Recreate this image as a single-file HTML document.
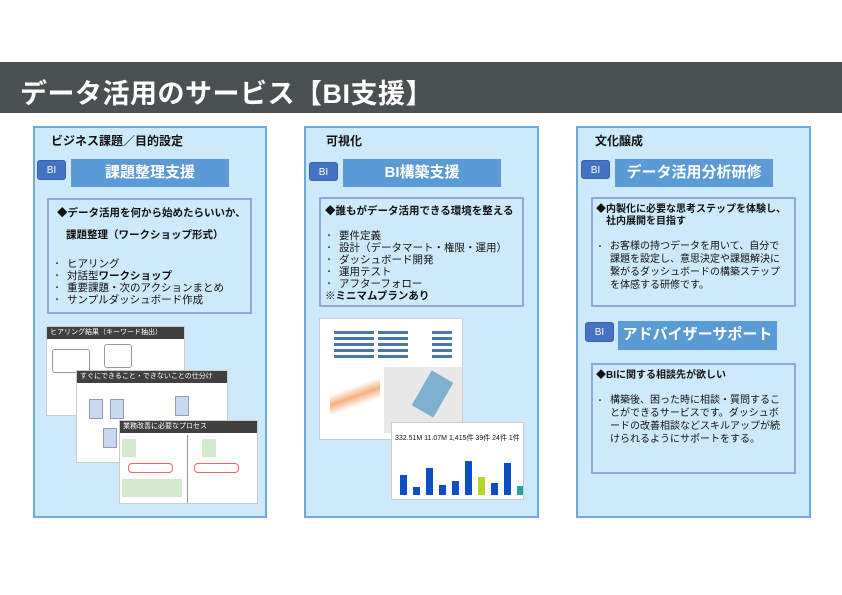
<!DOCTYPE html>
<html><head><meta charset="utf-8"><style>
*{margin:0;padding:0;box-sizing:border-box}
body{width:842px;height:595px;background:#fff;position:relative;overflow:hidden;font-family:"Liberation Sans","Noto Sans CJK JP",sans-serif;color:#111}
.a{position:absolute}
.hdr{left:0;top:62px;width:842px;height:51px;background:#4b5050;color:#fff;font-weight:bold;font-size:27px;padding:10px 0 0 20px;letter-spacing:0.5px}
.panel{background:#cdeafc;border:2px solid #6fa8dc}
.ptitle{font-size:12px;font-weight:bold}
.badge{background:#4472c4;color:#fff;font-size:10px;border-radius:3px;text-align:center;line-height:19px;border:1px solid #3a62ad}
.tbox{background:#5b9bd5;color:#fff;font-weight:bold;font-size:15px;text-align:center;line-height:28px;white-space:nowrap}
.inner{border:2px solid #8eaadb;background:#cdeafc;font-size:10.5px;line-height:12px;padding:5px 4px}
.inner b{font-weight:bold}
.nw{white-space:nowrap}
ul{list-style:none}
li{padding-left:14px;position:relative}
li:before{content:"・";position:absolute;left:0;font-size:8px}
.img{background:#fff;border:1px solid #ccc}
.bar{background:#404040;color:#fff;font-size:7px;line-height:12px;padding-left:3px;white-space:nowrap;overflow:hidden}
</style></head><body>
<div class="a hdr">データ活用のサービス【BI支援】</div>

<!-- left -->
<div class="a panel" style="left:33px;top:126px;width:234px;height:392px"></div>
<div class="a ptitle" style="left:51px;top:132px">ビジネス課題／目的設定</div>
<div class="a badge" style="left:37px;top:160px;width:29px;height:20px">BI</div>
<div class="a tbox" style="left:71px;top:159px;width:158px;height:28px">課題整理支援</div>
<div class="a inner" style="left:47px;top:198px;width:205px;height:116px">
<div class="nw" style="font-weight:bold;padding-left:4px;margin-top:2px">◆データ活用を何から始めたらいいか、</div>
<div class="nw" style="font-weight:bold;padding-left:13px;margin-top:10px">課題整理（ワークショップ形式）</div>
<ul style="margin-top:17px" class="nw"><li>ヒアリング</li><li>対話型<b>ワークショップ</b></li><li>重要課題・次のアクションまとめ</li><li>サンプルダッシュボード作成</li></ul>
</div>
<div class="a img" style="left:46px;top:326px;width:139px;height:90px"><div class="bar">ヒアリング結果（キーワード抽出）</div>
<div class="a" style="left:5px;top:22px;width:38px;height:24px;border:1px solid #999;border-radius:3px"></div>
<div class="a" style="left:57px;top:17px;width:28px;height:24px;border:1px solid #999;border-radius:3px"></div></div>
<div class="a img" style="left:76px;top:370px;width:152px;height:93px"><div class="bar">すぐにできること・できないことの仕分け</div>
<div class="a" style="left:12px;top:28px;width:14px;height:20px;background:#c9daf0;border:1px solid #99b"></div>
<div class="a" style="left:33px;top:28px;width:14px;height:20px;background:#c9daf0;border:1px solid #99b"></div>
<div class="a" style="left:98px;top:25px;width:14px;height:20px;background:#c9daf0;border:1px solid #99b"></div>
<div class="a" style="left:26px;top:57px;width:14px;height:20px;background:#c9daf0;border:1px solid #99b"></div></div>
<div class="a img" style="left:119px;top:420px;width:139px;height:84px"><div class="bar">業務改善に必要なプロセス</div>
<div class="a" style="left:8px;top:42px;width:45px;height:10px;border:1px solid #e66;border-radius:4px"></div>
<div class="a" style="left:74px;top:42px;width:45px;height:10px;border:1px solid #e66;border-radius:4px"></div>
<div class="a" style="left:2px;top:18px;width:14px;height:18px;background:#d4e8cc"></div>
<div class="a" style="left:82px;top:18px;width:14px;height:18px;background:#d4e8cc"></div>
<div class="a" style="left:2px;top:58px;width:60px;height:18px;background:#d4e8cc"></div>
<div class="a" style="left:67px;top:14px;width:1px;height:68px;background:#999"></div></div>

<!-- middle -->
<div class="a panel" style="left:304px;top:126px;width:235px;height:392px"></div>
<div class="a ptitle" style="left:326px;top:132px">可視化</div>
<div class="a badge" style="left:309px;top:162px;width:29px;height:19px">BI</div>
<div class="a tbox" style="left:343px;top:159px;width:158px;height:28px">BI構築支援</div>
<div class="a inner" style="left:319px;top:197px;width:205px;height:110px">
<div class="nw" style="font-weight:bold;margin-top:1px">◆誰もがデータ活用できる環境を整える</div>
<ul style="margin-top:13px" class="nw"><li>要件定義</li><li>設計（データマート・権限・運用）</li><li>ダッシュボード開発</li><li>運用テスト</li><li>アフターフォロー</li></ul>
<div style="font-weight:bold">※ミニマムプランあり</div>
</div>
<div class="a img" style="left:319px;top:318px;width:144px;height:122px">
<div class="a" style="left:14px;top:12px;width:40px;height:30px;background:repeating-linear-gradient(#4a78a8 0 3px,#fff 3px 6px)"></div>
<div class="a" style="left:58px;top:12px;width:30px;height:30px;background:repeating-linear-gradient(#4a78a8 0 3px,#fff 3px 6px)"></div>
<div class="a" style="left:112px;top:12px;width:20px;height:30px;background:repeating-linear-gradient(#4a78a8 0 3px,#fff 3px 6px)"></div>
<div class="a" style="left:64px;top:48px;width:78px;height:66px;background:#e8e8e8"></div>
<div class="a" style="left:100px;top:55px;width:25px;height:40px;background:#7fb0d0;transform:rotate(30deg)"></div>
<div class="a" style="left:10px;top:60px;width:50px;height:35px;background:linear-gradient(160deg,#fff 30%,#f4b183 50%,#fff 70%)"></div></div>
<div class="a img" style="left:391px;top:422px;width:133px;height:78px;overflow:hidden">
<div class="a nw" style="left:0;top:0;width:133px;height:24px;font-size:7px;padding:10px 0 0 3px">332.51M 11.07M 1,415件 39件 24件 1件</div>
<div class="a" style="left:8px;top:52px;width:7px;height:20px;background:#0b4fc6"></div>
<div class="a" style="left:21px;top:64px;width:7px;height:8px;background:#0b4fc6"></div>
<div class="a" style="left:34px;top:45px;width:7px;height:27px;background:#0b4fc6"></div>
<div class="a" style="left:47px;top:62px;width:7px;height:10px;background:#0b4fc6"></div>
<div class="a" style="left:60px;top:58px;width:7px;height:14px;background:#0b4fc6"></div>
<div class="a" style="left:73px;top:38px;width:7px;height:34px;background:#0b4fc6"></div>
<div class="a" style="left:86px;top:54px;width:7px;height:18px;background:#b7d62b"></div>
<div class="a" style="left:99px;top:60px;width:7px;height:12px;background:#0b4fc6"></div>
<div class="a" style="left:112px;top:40px;width:7px;height:32px;background:#0b4fc6"></div>
<div class="a" style="left:125px;top:63px;width:6px;height:9px;background:#27a0a0"></div></div>

<!-- right -->
<div class="a panel" style="left:576px;top:126px;width:235px;height:392px"></div>
<div class="a ptitle" style="left:595px;top:132px">文化醸成</div>
<div class="a badge" style="left:581px;top:160px;width:29px;height:19px">BI</div>
<div class="a tbox" style="left:615px;top:159px;width:158px;height:28px">データ活用分析研修</div>
<div class="a inner" style="left:591px;top:197px;width:205px;height:110px;padding-left:3px;font-size:10px">
<div class="nw" style="font-weight:bold">◆内製化に必要な思考ステップを体験し、<br><span style="padding-left:10px">社内展開を目指す</span></div>
<ul style="margin-top:12px;line-height:13px;padding-right:6px"><li>お客様の持つデータを用いて、自分で課題を設定し、意思決定や課題解決に繋がるダッシュボードの構築ステップを体感する研修です。</li></ul>
</div>
<div class="a badge" style="left:585px;top:322px;width:29px;height:20px">BI</div>
<div class="a tbox" style="left:618px;top:321px;width:159px;height:29px">アドバイザーサポート</div>
<div class="a inner" style="left:591px;top:363px;width:205px;height:111px;padding-left:3px;font-size:10px">
<div class="nw" style="font-weight:bold">◆BIに関する相談先が欲しい</div>
<ul style="margin-top:12px;line-height:13px;padding-right:6px"><li>構築後、困った時に相談・質問することができるサービスです。ダッシュボードの改善相談などスキルアップが続けられるようにサポートをする。</li></ul>
</div>
</body></html>
